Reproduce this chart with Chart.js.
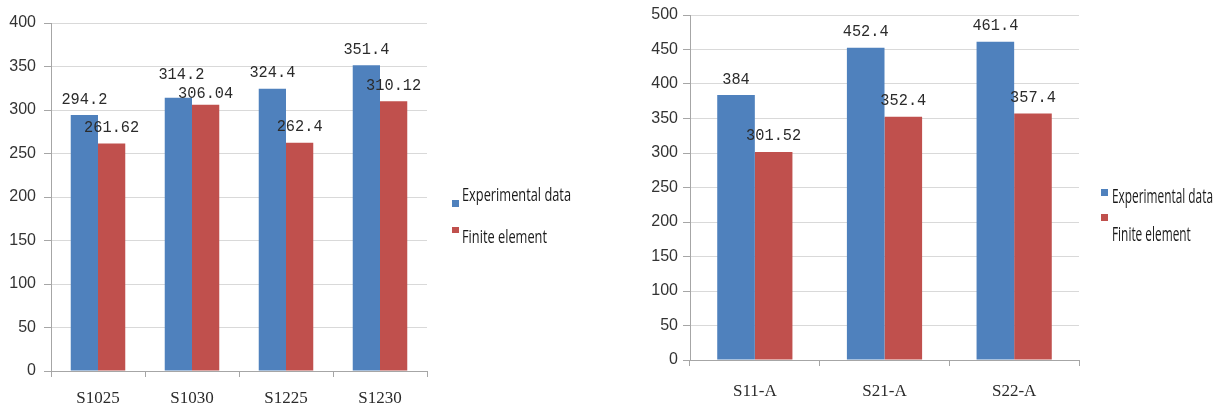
<!DOCTYPE html>
<html>
<head>
<meta charset="utf-8">
<script src="https://cdn.jsdelivr.net/npm/chart.js@4.4.1/dist/chart.umd.min.js"></script>
<style>
  html, body { margin: 0; padding: 0; background: #fff; width: 1224px; height: 409px; overflow: hidden; }
  .panel { position: absolute; top: 0; }
  canvas { display: block; }
</style>
</head>
<body>
<div class="panel" style="left:0"><canvas id="chartA" width="600" height="409"></canvas></div>
<div class="panel" style="left:600px"><canvas id="chartB" width="624" height="409"></canvas></div>
<script>
// Specimen groups and bearing capacity values
const specimensA = ['S1025', 'S1030', 'S1225', 'S1230'];
const experimentalA = [294.2, 314.2, 324.4, 351.4];
const finiteA = [261.62, 306.04, 262.4, 310.12];

const specimensB = ['S11-A', 'S21-A', 'S22-A'];
const experimentalB = [384, 452.4, 461.4];
const finiteB = [301.52, 352.4, 357.4];

const seriesNames = ['Experimental data', 'Finite element'];
const yTicksA = [0, 50, 100, 150, 200, 250, 300, 350, 400];
const yTicksB = [0, 50, 100, 150, 200, 250, 300, 350, 400, 450, 500];

const BLUE = '#4F81BD';
const RED = '#C0504D';

// Value labels above every bar
const valueLabels = {
  id: 'valueLabels',
  afterDatasetsDraw(chart, args, opts) {
    const ctx = chart.ctx;
    ctx.save();
    ctx.fillStyle = '#2b2b2b';
    ctx.font = opts.font;
    ctx.textAlign = 'center';
    ctx.textBaseline = 'middle';
    chart.data.datasets.forEach((ds, di) => {
      const meta = chart.getDatasetMeta(di);
      meta.data.forEach((bar, i) => {
        const n = (opts.nudge && opts.nudge[di + ':' + i]) || [0, 0];
        ctx.save();
        ctx.translate(bar.x + n[0], bar.y - opts.gap + n[1]);
        ctx.scale(opts.squeeze, 1);
        ctx.fillText(String(ds.data[i]), 0, 0);
        ctx.restore();
      });
    });
    ctx.restore();
  }
};

// Legend with small square swatches, drawn beside the plot
const sideLegend = {
  id: 'sideLegend',
  afterDraw(chart, args, opts) {
    const ctx = chart.ctx;
    ctx.save();
    ctx.font = opts.font;
    ctx.textBaseline = 'alphabetic';
    ctx.textAlign = 'left';
    const w0 = ctx.measureText(chart.data.datasets[0].label).width;
    const squeeze = opts.textWidth / w0;
    chart.data.datasets.forEach((ds, di) => {
      const it = opts.items[di];
      ctx.fillStyle = ds.backgroundColor;
      ctx.fillRect(it.box[0], it.box[1], it.box[2], it.box[3]);
      ctx.fillStyle = '#1a1a1a';
      ctx.save();
      ctx.translate(it.text[0], it.text[1]);
      ctx.scale(squeeze, 1);
      ctx.fillText(ds.label, 0, 0);
      ctx.restore();
    });
    ctx.restore();
  }
};

function makeChart(id, cats, exp, fin, ticks, geo) {
  const yMax = ticks[ticks.length - 1];
  return new Chart(document.getElementById(id), {
    type: 'bar',
    data: {
      labels: cats,
      datasets: [
        { label: seriesNames[0], data: exp, backgroundColor: BLUE },
        { label: seriesNames[1], data: fin, backgroundColor: RED }
      ]
    },
    options: {
      responsive: false,
      animation: false,
      events: [],
      layout: { padding: { left: 0, right: geo.padRight, top: geo.padTop, bottom: 0 } },
      datasets: { bar: { categoryPercentage: 0.58, barPercentage: 1.0 } },
      plugins: {
        legend: { display: false },
        tooltip: { enabled: false },
        valueLabels: { font: '17px "Liberation Mono"', squeeze: 0.9, gap: 16, nudge: geo.nudge },
        sideLegend: { font: geo.legendFont, textWidth: geo.legendWidth, items: geo.legendItems }
      },
      scales: {
        x: {
          grid: { drawOnChartArea: false, drawTicks: true, tickLength: 6, tickColor: '#a6a6a6' },
          border: { color: '#a6a6a6', width: 1 },
          ticks: { color: '#2b2b2b', font: { family: 'Liberation Serif', size: 17 }, padding: geo.xPad },
          afterFit(scale) { scale.height = geo.xHeight; }
        },
        y: {
          min: 0,
          max: yMax,
          afterBuildTicks(scale) { scale.ticks = ticks.map(v => ({ value: v })); },
          grid: { color: '#d9d9d9', tickLength: 7, tickColor: '#a6a6a6' },
          border: { color: '#a6a6a6', width: 1 },
          ticks: { color: '#333', font: { family: 'Liberation Sans', size: 16 }, padding: geo.yPad },
          afterFit(scale) { scale.width = geo.yWidth; }
        }
      }
    },
    plugins: [valueLabels, sideLegend]
  });
}

makeChart('chartA', specimensA, experimentalA, finiteA, yTicksA, {
  padRight: 173, padTop: 23, xHeight: 38, xPad: 11, yWidth: 51, yPad: 8,
  nudge: { '0:1': [3, -7], '1:1': [0, 5] },
  legendFont: '18px "Open Sans"', legendWidth: 109,
  legendItems: [
    { box: [452, 200, 7, 7], text: [462, 201] },
    { box: [452, 227, 7, 6], text: [462, 243] }
  ]
});

makeChart('chartB', specimensB, experimentalB, finiteB, yTicksB, {
  padRight: 145, padTop: 15, xHeight: 49, xPad: 15, yWidth: 90, yPad: 5,
  nudge: {},
  legendFont: '20px "Open Sans"', legendWidth: 101,
  legendItems: [
    { box: [501, 189, 7, 7], text: [512, 203] },
    { box: [501, 214, 7, 7], text: [512, 241] }
  ]
});
</script>
</body>
</html>
